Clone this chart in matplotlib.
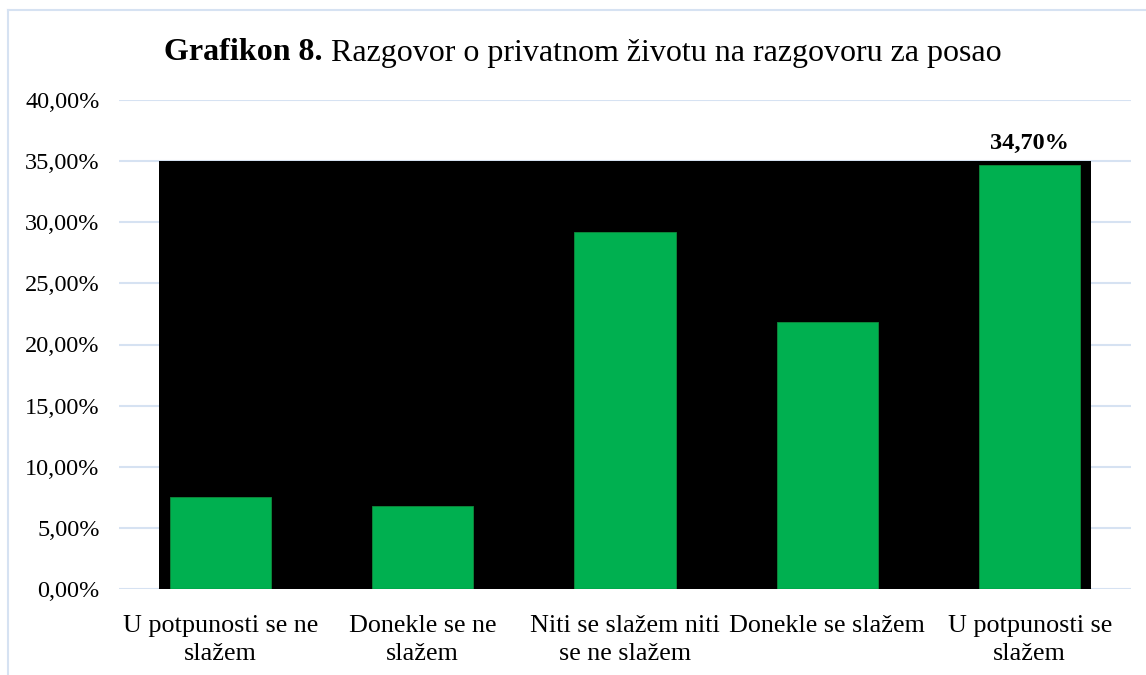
import matplotlib.pyplot as plt
from matplotlib.patches import Rectangle
from matplotlib.lines import Line2D
from matplotlib.ticker import FuncFormatter

plt.rcParams['font.family'] = ['Liberation Serif', 'DejaVu Serif']

# Data
categories = ['U potpunosti se ne\nslažem', 'Donekle se ne\nslažem',
              'Niti se slažem niti\nse ne slažem', 'Donekle se slažem',
              'U potpunosti se\nslažem']
values = [7.5, 6.8, 29.2, 21.8, 34.7]
yticks = [0, 5, 10, 15, 20, 25, 30, 35, 40]
labelled = [4]  # only the last bar has a data label

fig = plt.figure(figsize=(11.46, 6.75), dpi=100)
ax = fig.add_axes([119 / 1146, 1 - 589 / 675, (1131 - 119) / 1146, (589 - 100) / 675])

# chart frame (top and left edges visible)
frame_col = '#d6e2f2'
fig.add_artist(Line2D([8 / 1146, 1], [1 - 10 / 675, 1 - 10 / 675], color=frame_col, lw=1.5))
fig.add_artist(Line2D([8 / 1146, 8 / 1146], [0, 1 - 10 / 675], color=frame_col, lw=1.5))

x = list(range(len(categories)))

# black background block behind the bars
ax.add_patch(Rectangle((-0.3, -0.15), 4.6, 35.15, facecolor='black', edgecolor='none', zorder=1))
ax.bar(x, values, width=0.5, color='#00b050', edgecolor='#0f8a3c', linewidth=0.6, zorder=2)
ax.plot([-0.3, 4.3], [-0.1, -0.1], color='black', lw=1.5, zorder=3)

for i in labelled:
    ax.text(x[i], values[i] + 0.9, f'{values[i]:.2f}%'.replace('.', ','),
            ha='center', va='bottom', fontsize=17.5, fontweight='bold')

ax.set_xlim(-0.5, 4.5)
ax.set_ylim(0, 40)
ax.set_yticks(yticks)
ax.yaxis.set_major_formatter(FuncFormatter(lambda v, p: f'{v:.2f}%'.replace('.', ',')))
ax.set_xticks(x)
ax.set_xticklabels(categories, fontsize=18.8, linespacing=1.37)
ax.tick_params(axis='y', labelsize=17.5, length=0, pad=14)
ax.tick_params(axis='x', length=0, pad=18.5)
ax.grid(axis='y', color=frame_col, lw=1.5, zorder=0)
ax.set_axisbelow(True)
for s in ax.spines.values():
    s.set_visible(False)

# title: bold part + regular part, centred as a whole
ty = 1 - 53 / 675
t1 = fig.text(0, ty, 'Grafikon 8.', fontsize=23, fontweight='bold', va='center')
t2 = fig.text(0, ty, ' Razgovor o privatnom životu na razgovoru za posao', fontsize=23, va='center')
fig.canvas.draw()
r = fig.canvas.get_renderer()
w1 = t1.get_window_extent(r).width
w2 = t2.get_window_extent(r).width
start = (583 - (w1 + w2) / 2) / 1146
t1.set_x(start)
t2.set_x(start + w1 / 1146)

fig.savefig('out.png', dpi=100)
